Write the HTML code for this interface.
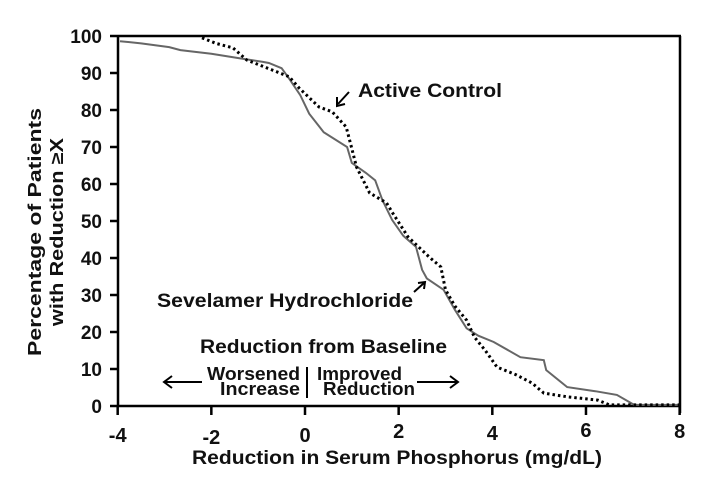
<!DOCTYPE html>
<html><head><meta charset="utf-8"><style>
html,body{margin:0;padding:0;background:#fff;}
svg{display:block;font-family:"Liberation Sans",Arial,sans-serif;font-weight:bold;}
</style></head><body>
<svg id="s" width="710" height="492" viewBox="0 0 710 492" xmlns="http://www.w3.org/2000/svg">
<rect width="710" height="492" fill="#fff"/>
<g stroke="#000" stroke-width="2.5" fill="none">
<line x1="118" y1="36" x2="681" y2="36"/>
<line x1="118" y1="36" x2="118" y2="406"/>
<line x1="118" y1="406" x2="681" y2="406"/>
<line x1="680" y1="36" x2="680" y2="413"/>
</g>
<g id="ticks" stroke="#000" stroke-width="2.5"></g>
<g font-size="19" fill="#111" text-anchor="end" id="ylab"></g>
<g font-size="20" fill="#111" text-anchor="middle" id="xlab"></g>
<text x="192" y="464" font-size="19" textLength="410" lengthAdjust="spacingAndGlyphs" fill="#111">Reduction in Serum Phosphorus (mg/dL)</text>
<g transform="translate(0,232) rotate(-90)" font-size="18" fill="#111" text-anchor="middle">
<text x="0" y="41" textLength="248" lengthAdjust="spacingAndGlyphs">Percentage of Patients</text>
<text x="0" y="63" textLength="188" lengthAdjust="spacingAndGlyphs">with Reduction ≥X</text>
</g>
<path id="solid" fill="none" stroke="#666" stroke-width="2"/>
<path id="dot" fill="none" stroke="#000" stroke-width="3" stroke-dasharray="2.5 3"/>
<text x="358" y="97" font-size="19" textLength="144" lengthAdjust="spacingAndGlyphs" fill="#111">Active Control</text>
<g stroke="#000" stroke-width="2" fill="none"><line x1="349" y1="92" x2="338" y2="104"/><path d="M337 97 L337 106 L345 104"/></g>
<text x="157" y="307" font-size="19" textLength="256" lengthAdjust="spacingAndGlyphs" fill="#111">Sevelamer Hydrochloride</text>
<g stroke="#000" stroke-width="2" fill="none"><line x1="414" y1="292" x2="424" y2="283"/><path d="M418 283 L425 282 L424 289"/></g>
<text x="200" y="353" font-size="19" textLength="247" lengthAdjust="spacingAndGlyphs" fill="#111">Reduction from Baseline</text>
<g font-size="18" fill="#111">
<text x="207" y="380" textLength="93" lengthAdjust="spacingAndGlyphs">Worsened</text>
<text x="220" y="395" textLength="80" lengthAdjust="spacingAndGlyphs">Increase</text>
<text x="317" y="380" textLength="85" lengthAdjust="spacingAndGlyphs">Improved</text>
<text x="323" y="395" textLength="92" lengthAdjust="spacingAndGlyphs">Reduction</text>
</g>
<g stroke="#000" stroke-width="2" fill="none">
<line x1="307" y1="367" x2="307" y2="398"/>
<line x1="164" y1="382" x2="202" y2="382"/><path d="M172 376 L164 382 L172 388"/>
<line x1="417" y1="382" x2="458" y2="382"/><path d="M450 376 L458 382 L450 388"/>
</g>
</svg>
<script>
function X(v){return 305+46.83*v;}function Y(p){return 406-3.7*p;}
var t=document.getElementById('ticks'),yl=document.getElementById('ylab'),xl=document.getElementById('xlab'),ns='http://www.w3.org/2000/svg';
for(var p=0;p<=100;p+=10){var l=document.createElementNS(ns,'line');l.setAttribute('x1',110);l.setAttribute('x2',118);l.setAttribute('y1',Y(p));l.setAttribute('y2',Y(p));t.appendChild(l);
var tx=document.createElementNS(ns,'text');tx.setAttribute('x',102);tx.setAttribute('y',Y(p)+7);tx.textContent=p;yl.appendChild(tx);}
var xs=[-4,-2,0,2,4,6,8],yb=[442,444,442,438,440,437,438];
xs.forEach(function(v,i){var l=document.createElementNS(ns,'line');l.setAttribute('x1',X(v));l.setAttribute('x2',X(v));l.setAttribute('y1',406);l.setAttribute('y2',415);t.appendChild(l);
var tx=document.createElementNS(ns,'text');tx.setAttribute('x',X(v));tx.setAttribute('y',yb[i]);tx.textContent=v;xl.appendChild(tx);});
function path(a){return a.map(function(q,i){return (i?'L':'M')+X(q[0]).toFixed(1)+' '+Y(q[1]).toFixed(1);}).join(' ');}
var solid=[[-3.95,98.6],[-3.5,98],[-2.9,97],[-2.66,96.2],[-2,95.2],[-1.4,94],[-0.9,93],[-0.77,92.7],[-0.5,91.3],[-0.34,88.5],[-0.1,84],[0.09,79],[0.4,74],[0.9,70],[1.0,65.7],[1.3,63],[1.5,61],[1.65,55.7],[1.86,50.3],[2.1,46],[2.37,43],[2.5,36.8],[2.6,34.5],[2.96,31.4],[3.2,26],[3.45,21],[3.7,19],[4.03,17.3],[4.6,13.2],[5.1,12.4],[5.15,9.7],[5.6,5.1],[6.2,4],[6.66,3],[7.03,0.3],[8,0.3]];
var dot=[[-2.2,99.5],[-1.9,98],[-1.54,96.8],[-1.24,93.5],[-0.7,90.8],[-0.34,89],[-0.13,86],[0.3,80.8],[0.58,79.5],[0.88,75.4],[0.99,70],[1.1,64.6],[1.38,57.6],[1.74,54.9],[1.87,52.2],[2.2,45.7],[2.65,40.3],[2.9,37.6],[3.0,31.4],[3.2,27],[3.45,23.2],[3.62,18.6],[3.85,15],[4.1,10.5],[4.5,8.5],[4.85,6.2],[5.1,3.5],[5.6,2.5],[6.25,1.6],[6.5,0.3],[8,0.3]];
document.getElementById('solid').setAttribute('d',path(solid));
document.getElementById('dot').setAttribute('d',path(dot));
</script>
</body></html>
